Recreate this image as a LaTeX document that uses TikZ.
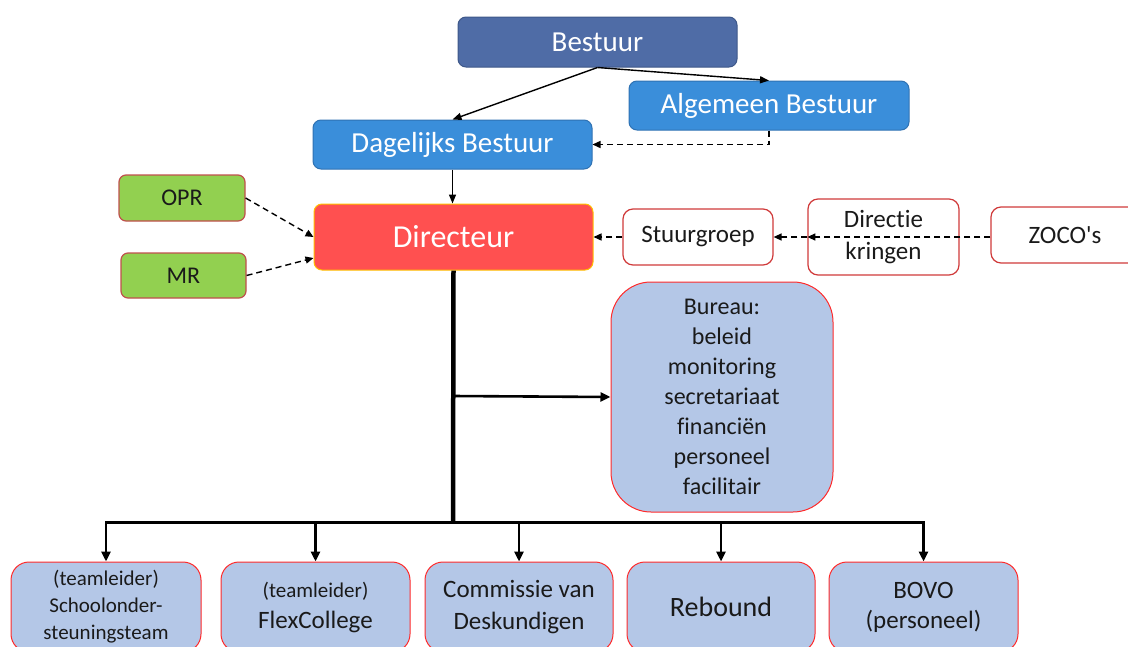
\documentclass[tikz,border=0pt]{standalone}
\usepackage{fontspec}
\setmainfont{Carlito}[Ligatures={NoCommon}]
\usetikzlibrary{arrows.meta}
\definecolor{bestuurblue}{HTML}{4F6CA6}
\definecolor{bestuurline}{HTML}{3E5889}
\definecolor{deelblue}{HTML}{3A8EDA}
\definecolor{deelline}{HTML}{2F72B3}
\definecolor{dirred}{HTML}{FF5050}
\definecolor{diryellow}{HTML}{FFC000}
\definecolor{raadgreen}{HTML}{92D050}
\definecolor{raadline}{HTML}{C0504D}
\definecolor{overlegline}{HTML}{D03A3A}
\definecolor{teamblue}{HTML}{B4C7E7}
\definecolor{teamline}{HTML}{FF2A2A}
\definecolor{tekst}{HTML}{1A1A1A}
\tikzset{
  topbox/.style={draw, rounded corners=8pt, line width=1pt, inner sep=0pt, align=center,
    text=white, font=\fontsize{29}{32}\selectfont},
  raadbox/.style={draw=raadline, fill=raadgreen, rounded corners=7pt, line width=1.2pt,
    inner sep=0pt, text=tekst, font=\fontsize{24}{28}\selectfont},
  overlegbox/.style={draw=overlegline, fill=white, rounded corners=10pt, line width=1.2pt,
    inner sep=0pt, align=center, text=tekst, font=\fontsize{25}{32}\selectfont},
  teambox/.style={draw=teamline, fill=teamblue, rounded corners=18pt, line width=1pt,
    inner sep=0pt, align=center, text=tekst, minimum height=90pt,
    font=\fontsize{25}{31}\selectfont},
  lijn/.style={line width=1.4pt, -{Triangle[length=9pt,width=7pt]}},
  stippel/.style={line width=1.4pt, dash pattern=on 6pt off 4pt,
    -{Triangle[length=8pt,width=7pt]}},
  tak/.style={line width=2.6pt, -{Triangle[length=10pt,width=9pt]}}
}
\begin{document}
\begin{tikzpicture}[x=1pt,y=-1pt]
\useasboundingbox (0,0) rectangle (1128,646);

\node[topbox, draw=bestuurline, fill=bestuurblue, minimum width=279pt, minimum height=50pt] (bestuur) at (597.5,42) {Bestuur};
\node[topbox, draw=deelline, fill=deelblue, minimum width=280pt, minimum height=49pt] (algemeen) at (769,105.5) {Algemeen Bestuur};
\node[topbox, draw=deelline, fill=deelblue, minimum width=279pt, minimum height=49pt] (dagelijks) at (452.5,144.5) {Dagelijks Bestuur};
\node[topbox, draw=diryellow, fill=dirred, minimum width=279pt, minimum height=66pt, font=\fontsize{32}{36}\selectfont] (directeur) at (453.5,237) {Directeur};

\node[raadbox, minimum width=126pt, minimum height=46pt] (opr) at (182,198) {OPR};
\node[raadbox, minimum width=125pt, minimum height=45pt] (mr) at (183.5,275.5) {MR};

\node[overlegbox, minimum width=150pt, minimum height=56pt] (stuurgroep) at (698,237) {Stuurgroep};
\node[overlegbox, minimum width=151pt, minimum height=76pt] (kringen) at (883.5,237) {Directie\\kringen};
\node[overlegbox, minimum width=148pt, minimum height=56pt] (zoco) at (1065,235) {ZOCO\textquotesingle s};

\node[teambox, rounded corners=40pt, minimum width=222pt, minimum height=230pt, font=\fontsize{24}{30}\selectfont] (bureau) at (722,397)
  {Bureau:\\beleid\\monitoring\\secretariaat\\financiën\\personeel\\facilitair};

\node[teambox, minimum width=190pt, font=\fontsize{21}{27}\selectfont] (sot) at (106,607) {(teamleider)\\Schoolonder-\\steuningsteam};
\node[teambox, minimum width=189pt] (flex) at (315.5,607) {{\fontsize{21}{27}\selectfont(teamleider)}\\FlexCollege};
\node[teambox, minimum width=188pt, font=\fontsize{25}{32}\selectfont] (cvd) at (519,607) {Commissie van\\Deskundigen};
\node[teambox, minimum width=188pt, font=\fontsize{28}{32}\selectfont] (rebound) at (721,607) {Rebound};
\node[teambox, minimum width=189pt, font=\fontsize{25}{30}\selectfont] (bovo) at (923.5,607) {BOVO\\(personeel)};

\draw[lijn] (bestuur.south) -- (dagelijks.north);
\draw[lijn] (bestuur.south) -- (algemeen.north);
\draw[stippel] (algemeen.south) |- (dagelijks.east);
\draw[lijn] (dagelijks.south) -- (dagelijks.south |- directeur.north);

\draw[stippel] (opr.east) -- (directeur.west);
\draw[stippel] (mr.east) -- ([yshift=-21pt]directeur.west);
\draw[stippel] (stuurgroep.west) -- (directeur.east);
\draw[stippel] (kringen.west) -- (stuurgroep.east);
\draw[stippel] (zoco.west |- kringen.west) -- (kringen.west);

\coordinate (aftak) at (453,396);
\coordinate (knoop) at (453,522);
\draw[line width=4.5pt] (directeur.south) -- (knoop);
\draw[tak] (aftak) -- (bureau.west);
\draw[line width=3pt, line cap=rect] (knoop -| sot.north) -- (knoop -| bovo.north);
\foreach \team in {sot,flex,cvd,rebound,bovo}
  \draw[tak] (knoop -| \team.north) -- (\team.north);
\end{tikzpicture}
\end{document}
